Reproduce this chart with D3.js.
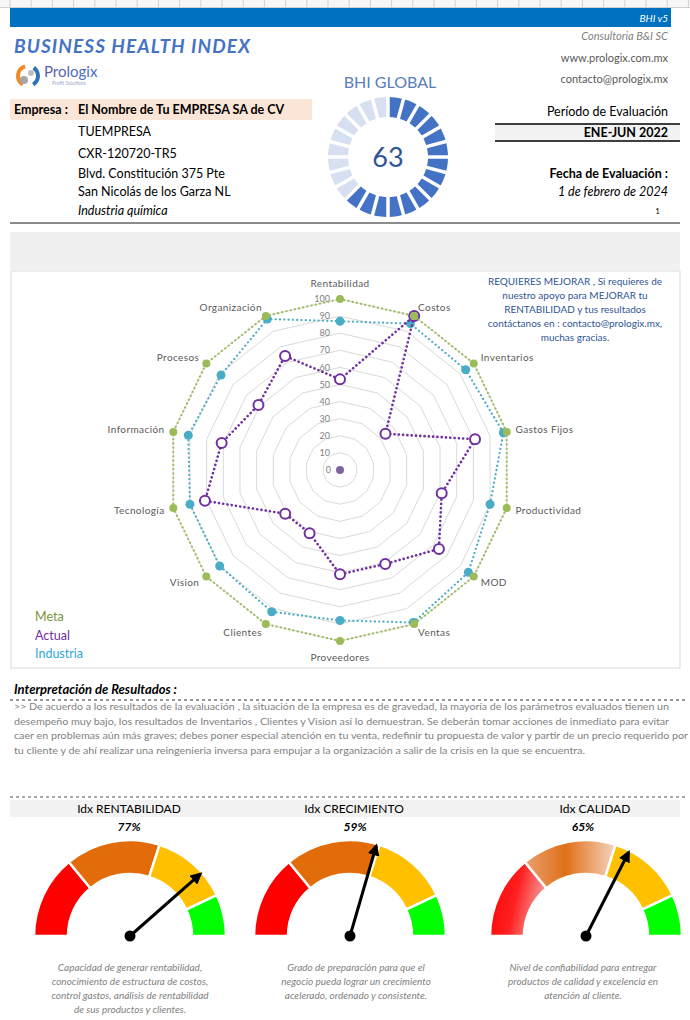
<!DOCTYPE html>
<html><head><meta charset="utf-8">
<script src="https://cdn.jsdelivr.net/npm/d3@7"></script>
<style>body{margin:0;background:#fff}svg{display:block}text{font-family:Lato,'Noto Sans',sans-serif}</style>
</head><body><svg id="c" width="690" height="1020"></svg>
<script>
// ---------- DATA ----------
const categories = ["Rentabilidad","Costos","Inventarios","Gastos Fijos","Productividad","MOD","Ventas","Proveedores","Clientes","Vision","Tecnología","Información","Procesos","Organización"];
const meta      = [100,100,100,100,100,100,100,100,100,100,100,100,100,100];
const actual    = [53,100,34,81,61,74,61,61,41,41,81,71,61,74];
const industria = [87,95,94,98,90,96,99,88,92,90,90,91,89,98];
const ringTicks = [0,10,20,30,40,50,60,70,80,90,100];
const seriesNames = ["Meta","Actual","Industria"];
const bhiGlobal = 63;
const gaugeTitles = ["Idx RENTABILIDAD","Idx CRECIMIENTO","Idx CALIDAD"];
const gaugeValues = [77,59,65];
const gaugeBands = [0,28,60,86,100];
const gaugeCaptions = [
  ["Capacidad de generar rentabilidad,","conocimiento de estructura de costos,","control gastos, análisis de rentabilidad","de sus productos y clientes."],
  ["Grado de preparación para que el","negocio pueda lograr un crecimiento","acelerado, ordenado y consistente."],
  ["Nivel de confiabilidad para entregar","productos de calidad y excelencia en","atención al cliente."]
];
const companyLines = ["TUEMPRESA","CXR-120720-TR5","Blvd. Constitución 375 Pte","San Nicolás de los Garza NL"];
const interpretation = [
  ">> De acuerdo a los resultados de la evaluación , la situación de la empresa es de gravedad, la mayoría de los parámetros evaluados tienen un",
  "desempeño muy bajo, los  resultados de Inventarios , Clientes y Vision así lo demuestran. Se deberán tomar acciones de inmediato para evitar",
  "caer en problemas aún más graves; debes poner especial atención en tu venta, redefinir tu propuesta de valor y partir de un precio requerido por",
  "tu cliente y de ahí realizar una reingenieria inversa para empujar a la organización a salir de la crisis en la que se encuentra."
];
const noteLines = ["REQUIERES MEJORAR , Si requieres de","nuestro apoyo para MEJORAR tu","RENTABILIDAD y tus resultados","contáctanos en : contacto@prologix.mx,","muchas gracias."];

// ---------- SETUP ----------
const svg = d3.select("#c");
const defs = svg.append("defs");

// excel-ish header row
const hdr = svg.append("g");
hdr.append("rect").attr("x",0).attr("y",0).attr("width",690).attr("height",7).attr("fill","#f7f7f7");
d3.range(10,690,21.2).forEach(x=>hdr.append("line").attr("x1",x).attr("x2",x).attr("y1",0).attr("y2",7).attr("stroke","#d0d0d0"));
hdr.append("line").attr("x1",0).attr("x2",690).attr("y1",7.5).attr("y2",7.5).attr("stroke","#d0d0d0");

// blue bar
svg.append("rect").attr("x",10).attr("y",8).attr("width",661).attr("height",19).attr("fill","#0070C0");
svg.append("text").attr("x",668).attr("y",22).attr("text-anchor","end").attr("font-size",10).attr("font-style","italic").attr("fill","#fff").text("BHI v5");

// title
svg.append("text").attr("x",14).attr("y",53).attr("font-size",19).attr("font-weight","bold").attr("font-style","italic").attr("fill","#4472C4").attr("textLength",236).text("BUSINESS HEALTH INDEX");

// logo
const lg = svg.append("g").attr("transform","translate(28,76)");
lg.append("path").attr("d",d3.arc()({innerRadius:8,outerRadius:12,startAngle:-2.6,endAngle:-0.3})).attr("fill","#F08A24");
lg.append("path").attr("d",d3.arc()({innerRadius:8,outerRadius:12,startAngle:0.6,endAngle:2.6})).attr("fill","#2E75B6");
lg.append("circle").attr("cx",-4).attr("cy",4).attr("r",4).attr("fill","#A6A6A6");
lg.append("circle").attr("cx",3).attr("cy",-3).attr("r",3).attr("fill","#BFBFBF");
svg.append("text").attr("x",44).attr("y",77).attr("font-size",15).attr("fill","#5A63B0").text("Pro").append("tspan").attr("fill","#4F6BBF").text("logix");
svg.append("text").attr("x",52).attr("y",85).attr("font-size",5).attr("fill","#9aa6c8").text("Profit Solutions");

// right header texts
svg.append("text").attr("x",668).attr("y",40).attr("text-anchor","end").attr("font-size",11).attr("font-style","italic").attr("fill","#7F7F7F").text("Consultoria B&I SC");
svg.append("text").attr("x",668).attr("y",62).attr("text-anchor","end").attr("font-size",11).attr("fill","#595959").text("www.prologix.com.mx");
svg.append("text").attr("x",668).attr("y",83).attr("text-anchor","end").attr("font-size",11).attr("fill","#595959").text("contacto@prologix.mx");

// company block
svg.append("rect").attr("x",10).attr("y",99).attr("width",302).attr("height",21).attr("fill","#FBE5D6");
svg.append("text").attr("x",14).attr("y",114).attr("font-size",12.5).attr("font-weight","bold").text("Empresa :");
svg.append("text").attr("x",78).attr("y",114).attr("font-size",12.5).attr("font-weight","bold").text("El Nombre de Tu EMPRESA SA de CV");
const cy0=[136,158,178,196];
companyLines.forEach((t,i)=>svg.append("text").attr("x",78).attr("y",cy0[i]).attr("font-size",12.5).text(t));
svg.append("text").attr("x",78).attr("y",215).attr("font-size",12.5).attr("font-style","italic").text("Industria química");

// right block
svg.append("text").attr("x",668).attr("y",116).attr("text-anchor","end").attr("font-size",12.5).text("Período de Evaluación");
svg.append("rect").attr("x",495).attr("y",124).attr("width",185).attr("height",17).attr("fill","#F2F2F2");
svg.append("line").attr("x1",495).attr("x2",680).attr("y1",124).attr("y2",124).attr("stroke","#000").attr("stroke-width",1.5);
svg.append("line").attr("x1",495).attr("x2",680).attr("y1",141).attr("y2",141).attr("stroke","#000").attr("stroke-width",1.5);
svg.append("text").attr("x",668).attr("y",137).attr("text-anchor","end").attr("font-size",12.5).attr("font-weight","bold").text("ENE-JUN 2022");
svg.append("text").attr("x",668).attr("y",178).attr("text-anchor","end").attr("font-size",12.5).attr("font-weight","bold").text("Fecha de Evaluación :");
svg.append("text").attr("x",668).attr("y",196).attr("text-anchor","end").attr("font-size",12.5).attr("font-style","italic").text("1 de febrero de 2024");
svg.append("text").attr("x",660).attr("y",214).attr("text-anchor","end").attr("font-size",8).text("1");
svg.append("line").attr("x1",10).attr("x2",680).attr("y1",223).attr("y2",223).attr("stroke","#8c8c8c").attr("stroke-width",2);

// BHI global donut
svg.append("text").attr("x",390).attr("y",88).attr("text-anchor","middle").attr("font-size",16).attr("fill","#5B7DB8").text("BHI GLOBAL");
const dg = svg.append("g").attr("transform","translate(388,157)");
const pie = d3.pie().sort(null)([bhiGlobal,100-bhiGlobal]);
const darc = d3.arc().innerRadius(40).outerRadius(60);
dg.selectAll("path.d").data(pie).join("path").attr("d",darc).attr("fill",(d,i)=>i===0?"#4472C4":"#D6E0F1");
d3.range(24).forEach(i=>{const a=i*Math.PI*2/24;dg.append("line").attr("x1",38*Math.sin(a)).attr("y1",-38*Math.cos(a)).attr("x2",62*Math.sin(a)).attr("y2",-62*Math.cos(a)).attr("stroke","#fff").attr("stroke-width",3.5);});
dg.append("text").attr("y",10).attr("text-anchor","middle").attr("font-size",27).attr("fill","#2F5597").text(bhiGlobal);

// grey band
svg.append("rect").attr("x",10).attr("y",232).attr("width",670).attr("height",38).attr("fill","#F0F0F0");
// chart box
svg.append("rect").attr("x",11).attr("y",271).attr("width",669).attr("height",397).attr("fill","none").attr("stroke","#d9d9d9");

// ---------- RADAR ----------
const cx=340, cy=470;
const r = d3.scaleLinear().domain([0,100]).range([0,171]);
const ang = d3.scaleLinear().domain([0,categories.length]).range([0,2*Math.PI]);
const rg = svg.append("g").attr("transform",`translate(${cx},${cy})`);
const ringLine = d3.lineRadial().curve(d3.curveLinearClosed);
ringTicks.slice(1).forEach(t=>{
  rg.append("path").attr("d",ringLine(categories.map((c,i)=>[ang(i),r(t)]))).attr("fill","none").attr("stroke","#D9D9D9").attr("stroke-width",1);
});
ringTicks.forEach(t=>{
  rg.append("text").attr("x",t===0?-9:-10).attr("y",-r(t)).attr("dy","0.35em").attr("text-anchor","end").attr("font-size",9).attr("fill","#7F7F7F").text(t);
});
// category labels
categories.forEach((c,i)=>{
  const a=ang(i);
  const s=Math.sin(a), co=Math.cos(a);
  const px=r(100)*s, py=-r(100)*co;
  const mid=Math.abs(s)<0.1;
  const x= mid?px: px+s*9;
  const y= mid?py-co*16: py-co*9;
  rg.append("text").attr("x",x).attr("y",y).attr("dy","0.35em")
    .attr("text-anchor",mid?"middle":(s>0?"start":"end"))
    .attr("font-size",10).attr("letter-spacing",0.4).attr("fill","#595959").text(c);
});
const radLine = d3.lineRadial().angle((d,i)=>ang(i)).radius(d=>r(d)).curve(d3.curveLinearClosed);
function drawSeries(vals,color,hollow,rad){
  rg.append("path").attr("d",radLine(vals)).attr("fill","none").attr("stroke",color).attr("stroke-width",hollow?2.6:2.2).attr("stroke-dasharray","0.1,4.2").attr("stroke-linecap","round");
  rg.selectAll(null).data(vals).join("circle")
    .attr("cx",(d,i)=>r(d)*Math.sin(ang(i))).attr("cy",(d,i)=>-r(d)*Math.cos(ang(i))).attr("r",rad)
    .attr("fill",hollow?"#fff":color).attr("stroke",color).attr("stroke-width",hollow?2:0);
}
drawSeries(industria,"#4BACC6",false,4.5);
drawSeries(actual,"#7030A0",true,5);
drawSeries(meta,"#9BBB59",false,4);
rg.append("circle").attr("cx",0).attr("cy",-r(0)).attr("r",4).attr("fill","#8064A2");

// note
noteLines.forEach((t,i)=>svg.append("text").attr("x",575).attr("y",285+i*14).attr("text-anchor","middle").attr("font-size",10).attr("fill","#2F5597").text(t));
// legend
const legColors=["#77933C","#7030A0","#31A6D8"];
seriesNames.forEach((n,i)=>svg.append("text").attr("x",35).attr("y",621+i*18.5).attr("font-size",12.5).attr("fill",legColors[i]).text(n));

// ---------- INTERPRETATION ----------
svg.append("text").attr("x",14).attr("y",694).attr("font-size",13).attr("font-weight","bold").attr("font-style","italic").text("Interpretación de Resultados :");
svg.append("line").attr("x1",10).attr("x2",686).attr("y1",700).attr("y2",700).attr("stroke","#333").attr("stroke-dasharray","3,3");
const lens=[655,655,674,571];
interpretation.forEach((t,i)=>svg.append("text").attr("x",14).attr("y",710+i*14.5).attr("font-size",10).attr("fill","#7F7F7F").attr("textLength",lens[i]).attr("lengthAdjust","spacingAndGlyphs").text(t));

// ---------- GAUGES ----------
svg.append("line").attr("x1",10).attr("x2",686).attr("y1",797).attr("y2",797).attr("stroke","#555").attr("stroke-dasharray","3,3");
svg.append("rect").attr("x",10).attr("y",800).attr("width",670).attr("height",17).attr("fill","#F2F2F2");
const gcx=[130,350,586], titleX=[129,354,595], pctX=[129,355,583], capX=[130,356,583];
const gy=936;
const gScale = d3.scaleLinear().domain([0,100]).range([-Math.PI/2,Math.PI/2]);
const bandColors=["#FF0000","#E26B0A","#FFC000","#00FF00"];
const gr1=defs.append("linearGradient").attr("id","gRed").attr("x1","0").attr("y1","0").attr("x2","1").attr("y2","0.3");
gr1.append("stop").attr("offset","0").attr("stop-color","#FF0000");gr1.append("stop").attr("offset","0.55").attr("stop-color","#FF2020");gr1.append("stop").attr("offset","1").attr("stop-color","#F59A9A");
const gr2=defs.append("linearGradient").attr("id","gOr").attr("x1","0").attr("y1","0").attr("x2","1").attr("y2","0");
gr2.append("stop").attr("offset","0").attr("stop-color","#E9A070");gr2.append("stop").attr("offset","0.45").attr("stop-color","#E07018");gr2.append("stop").attr("offset","1").attr("stop-color","#F5D5C0");
defs.append("marker").attr("id","arr").attr("viewBox","0 0 10 10").attr("refX",8).attr("refY",5).attr("markerWidth",4).attr("markerHeight",4).attr("orient","auto")
  .append("path").attr("d","M0,0L10,5L0,10z").attr("fill","#000");

const garc=d3.arc().innerRadius(62).outerRadius(96);
gaugeTitles.forEach((t,k)=>{
  svg.append("text").attr("x",titleX[k]).attr("y",813).attr("text-anchor","middle").attr("font-size",12).text(t);
  svg.append("text").attr("x",pctX[k]).attr("y",831).attr("text-anchor","middle").attr("font-size",12).attr("font-weight","bold").attr("font-style","italic").text(gaugeValues[k]+"%");
  const g=svg.append("g").attr("transform",`translate(${gcx[k]},${gy})`);
  for(let b=0;b<4;b++){
    let fill=bandColors[b];
    if(k===2&&b===0) fill="url(#gRed)";
    if(k===2&&b===1) fill="url(#gOr)";
    g.append("path").attr("d",garc({startAngle:gScale(gaugeBands[b]),endAngle:gScale(gaugeBands[b+1])})).attr("fill",fill).attr("stroke","#fff").attr("stroke-width",2.5);
  }
  const a=gScale(gaugeValues[k]);
  g.append("line").attr("x1",0).attr("y1",0).attr("x2",94*Math.sin(a)).attr("y2",-94*Math.cos(a)).attr("stroke","#000").attr("stroke-width",3).attr("marker-end","url(#arr)");
  g.append("circle").attr("r",5.5).attr("fill","#000");
  gaugeCaptions[k].forEach((l,i)=>svg.append("text").attr("x",capX[k]).attr("y",971+i*14).attr("text-anchor","middle").attr("font-size",10).attr("font-style","italic").attr("fill","#7F7F7F").text(l));
});
</script></body></html>
